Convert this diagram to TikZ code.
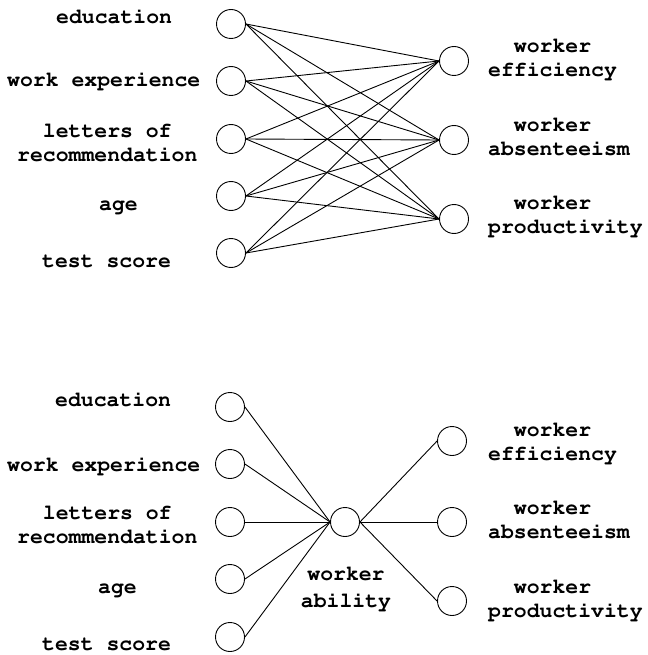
\documentclass[tikz,border=0pt]{standalone}
\usepackage[T1]{fontenc}
\begin{document}
\begin{tikzpicture}[x=1pt,y=-1pt,
  dot/.style={circle,draw,line width=0.9pt,minimum size=29pt,inner sep=0pt},
  lbl/.style={anchor=base west,inner sep=0pt,font=\fontencoding{T1}\fontfamily{pcr}\fontseries{b}\fontsize{21.45}{24}\selectfont},
  link/.style={line width=0.9pt}]
\useasboundingbox (0,0) rectangle (647,655);
% ---------- top diagram ----------
\node[dot] (ta1) at (231,24) {};
\node[dot] (ta2) at (231,81) {};
\node[dot] (ta3) at (231,139) {};
\node[dot] (ta4) at (231,196) {};
\node[dot] (ta5) at (231,253) {};
\node[dot] (tb1) at (454,61) {};
\node[dot] (tb2) at (454,140) {};
\node[dot] (tb3) at (454,219) {};
\node[lbl] (tl1) at (56,24) {education};
\node[lbl] (tl2) at (7,87) {work experience};
\node[lbl,align=center] (tl3) at (17,161) {letters of\\recommendation};
\node[lbl] (tl4) at (99,210) {age};
\node[lbl] (tl5) at (42,267) {test score};
\node[lbl,align=left] (tr1) at (488,77) {\phantom{xx}worker\\efficiency};
\node[lbl,align=left] (tr2) at (488,156) {\phantom{xx}worker\\absenteeism};
\node[lbl,align=left] (tr3) at (488,233) {\phantom{xx}worker\\productivity};
\foreach \i in {1,...,5}{\foreach \j in {1,2,3}{\draw[link] (ta\i.east) -- (tb\j.west);}}
% ---------- bottom diagram ----------
\node[dot] (ba1) at (230,407) {};
\node[dot] (ba2) at (230,464) {};
\node[dot] (ba3) at (230,522) {};
\node[dot] (ba4) at (230,579) {};
\node[dot] (ba5) at (230,637) {};
\node[dot] (bm) at (345,522) {};
\node[dot] (bb1) at (452,441) {};
\node[dot] (bb2) at (452,522) {};
\node[dot] (bb3) at (452,601) {};
\node[lbl] (bl1) at (55,406) {education};
\node[lbl] (bl2) at (7,471) {work experience};
\node[lbl,align=center] (bl3) at (17,543) {letters of\\recommendation};
\node[lbl] (bl4) at (98,593) {age};
\node[lbl] (bl5) at (42,650) {test score};
\node[lbl,anchor=base,align=center] (blm) at (346,607) {worker\\[3pt]ability};
\node[lbl,align=left] (br1) at (488,460) {\phantom{xx}worker\\efficiency};
\node[lbl,align=left] (br2) at (488,538) {\phantom{xx}worker\\absenteeism};
\node[lbl,align=left] (br3) at (488,617) {\phantom{xx}worker\\productivity};
\foreach \i in {1,...,5}{\draw[link] (ba\i.east) -- (bm.west);}
\foreach \j in {1,2,3}{\draw[link] (bm.east) -- (bb\j.west);}
\end{tikzpicture}
\end{document}
